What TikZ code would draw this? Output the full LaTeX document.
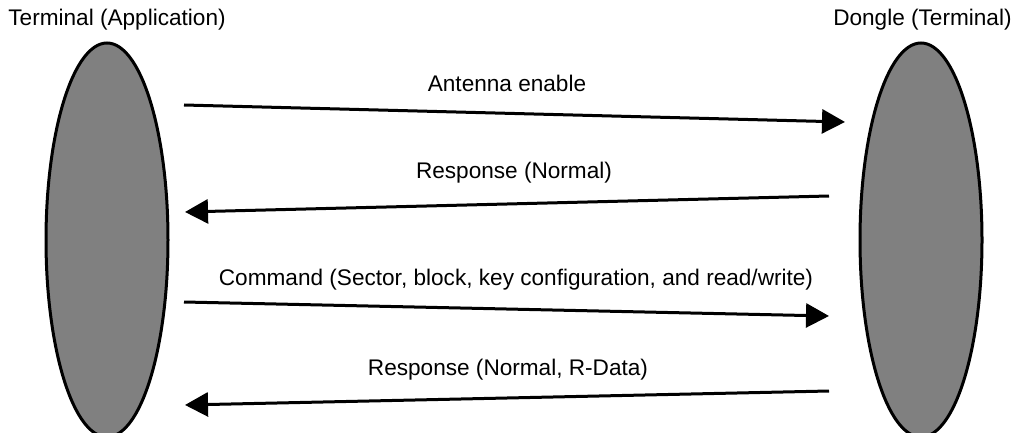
\documentclass[tikz,border=0pt]{standalone}
\usepackage{fontspec}
\setmainfont{Liberation Sans}
\usetikzlibrary{shapes.geometric,arrows.meta}
\begin{document}
\begin{tikzpicture}[x=0.5pt,y=-0.5pt,
  party/.style={ellipse,draw=black,fill=gray50,line width=1.5pt,minimum width=61pt,minimum height=197pt,inner sep=0pt},
  msg/.style={line width=1.5pt,-{Triangle[length=11.5pt,width=12pt]}},
  lbl/.style={font=\fontsize{11.3}{13}\selectfont,inner sep=0pt,anchor=center},
  ttl/.style={font=\fontsize{11.3}{13}\selectfont,inner sep=0pt}]
\definecolor{gray50}{HTML}{808080}
\useasboundingbox (0,0) rectangle (1017,433);
\clip (0,0) rectangle (1017,433);
\node[party] (L) at (107,240) {};
\node[party] (R) at (921,240) {};
\node[ttl,anchor=west] (tL) at (8,20) {Terminal (Application)};
\node[ttl,anchor=east] (tR) at (1012,20) {Dongle (Terminal)};
\coordinate (a1s) at (184,105);
\coordinate (a1e) at (845,122);
\coordinate (a2s) at (829,196);
\coordinate (a2e) at (185,212);
\coordinate (a3s) at (184,302);
\coordinate (a3e) at (829,316);
\coordinate (a4s) at (829,391);
\coordinate (a4e) at (185,405);
\draw[msg] (a1s) -- (a1e);
\draw[msg] (a2s) -- (a2e);
\draw[msg] (a3s) -- (a3e);
\draw[msg] (a4s) -- (a4e);
\node[lbl] (l1) at (507,83) {Antenna enable};
\node[lbl] (l2) at (514,173) {Response (Normal)};
\node[lbl] (l3) at (516,280) {Command (Sector, block, key configuration, and read/write)};
\node[lbl] (l4) at (508,370) {Response (Normal, R-Data)};
\end{tikzpicture}
\end{document}
